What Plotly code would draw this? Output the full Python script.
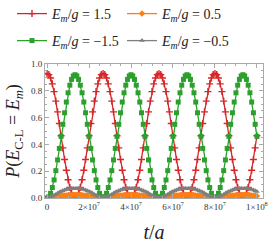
import plotly.graph_objects as go

# time in units of 1e6 (t/a)
t_e6 = [0.0, 0.833, 1.667, 2.5, 3.333, 4.167, 5.0, 5.833, 6.667, 7.5, 8.333, 9.167,
        10.0, 10.833, 11.667, 12.5, 13.333, 14.167, 15.0, 15.833, 16.667, 17.5, 18.333, 19.167,
        20.0, 20.833, 21.667, 22.5, 23.333, 24.167, 25.0, 25.833, 26.667, 27.5, 28.333, 29.167,
        30.0, 30.833, 31.667, 32.5, 33.333, 34.167, 35.0, 35.833, 36.667, 37.5, 38.333, 39.167,
        40.0, 40.833, 41.667, 42.5, 43.333, 44.167, 45.0, 45.833, 46.667, 47.5, 48.333, 49.167,
        50.0, 50.833, 51.667, 52.5, 53.333, 54.167, 55.0, 55.833, 56.667, 57.5, 58.333, 59.167,
        60.0, 60.833, 61.667, 62.5, 63.333, 64.167, 65.0, 65.833, 66.667, 67.5, 68.333, 69.167,
        70.0, 70.833, 71.667, 72.5, 73.333, 74.167, 75.0, 75.833, 76.667, 77.5, 78.333, 79.167,
        80.0, 80.833, 81.667, 82.5, 83.333, 84.167, 85.0, 85.833, 86.667, 87.5, 88.333, 89.167,
        90.0, 90.833, 91.667, 92.5, 93.333, 94.167, 95.0, 95.833, 96.667, 97.5, 98.333, 99.167,
        100.0]

# E_m/g = 1.5 (red)
p_red = [0.930, 0.921, 0.895, 0.852, 0.794, 0.723, 0.643, 0.556, 0.465, 0.374, 0.287, 0.207, 0.136, 0.078, 0.035, 0.009,
         0.000, 0.009, 0.035, 0.078, 0.136, 0.207, 0.287, 0.374, 0.465, 0.556, 0.643, 0.723, 0.794, 0.852, 0.895, 0.921,
         0.930, 0.921, 0.895, 0.852, 0.794, 0.723, 0.643, 0.556, 0.465, 0.374, 0.287, 0.207, 0.136, 0.078, 0.035, 0.009,
         0.000, 0.009, 0.035, 0.078, 0.136, 0.207, 0.287, 0.374, 0.465, 0.556, 0.643, 0.723, 0.794, 0.852, 0.895, 0.921,
         0.930, 0.921, 0.895, 0.852, 0.794, 0.723, 0.643, 0.556, 0.465, 0.374, 0.287, 0.207, 0.136, 0.078, 0.035, 0.009,
         0.000, 0.009, 0.035, 0.078, 0.136, 0.207, 0.287, 0.374, 0.465, 0.556, 0.643, 0.723, 0.794, 0.852, 0.895, 0.921,
         0.930, 0.921, 0.895, 0.852, 0.794, 0.723, 0.643, 0.556, 0.465, 0.374, 0.287, 0.207, 0.136, 0.078, 0.035, 0.009,
         0.000, 0.009, 0.035, 0.078, 0.136, 0.207, 0.287, 0.374, 0.465]

# E_m/g = 0.5 (orange)
p_orange = [0.001, 0.002, 0.003, 0.005, 0.007, 0.009, 0.011, 0.013, 0.015, 0.017, 0.018, 0.019, 0.020, 0.021, 0.021, 0.022,
            0.022, 0.022, 0.021, 0.021, 0.020, 0.019, 0.018, 0.017, 0.015, 0.013, 0.011, 0.009, 0.007, 0.005, 0.003, 0.002,
            0.001, 0.002, 0.003, 0.005, 0.007, 0.009, 0.011, 0.013, 0.015, 0.017, 0.018, 0.019, 0.020, 0.021, 0.021, 0.022,
            0.022, 0.022, 0.021, 0.021, 0.020, 0.019, 0.018, 0.017, 0.015, 0.013, 0.011, 0.009, 0.007, 0.005, 0.003, 0.002,
            0.001, 0.002, 0.003, 0.005, 0.007, 0.009, 0.011, 0.013, 0.015, 0.017, 0.018, 0.019, 0.020, 0.021, 0.021, 0.022,
            0.022, 0.022, 0.021, 0.021, 0.020, 0.019, 0.018, 0.017, 0.015, 0.013, 0.011, 0.009, 0.007, 0.005, 0.003, 0.002,
            0.001, 0.002, 0.003, 0.005, 0.007, 0.009, 0.011, 0.013, 0.015, 0.017, 0.018, 0.019, 0.020, 0.021, 0.021, 0.022,
            0.022, 0.022, 0.021, 0.021, 0.020, 0.019, 0.018, 0.017, 0.015]

# E_m/g = -1.5 (green)
p_green = [0.000, 0.009, 0.035, 0.078, 0.135, 0.204, 0.284, 0.370, 0.460, 0.550, 0.636, 0.716, 0.785, 0.842, 0.885, 0.911,
           0.920, 0.911, 0.885, 0.842, 0.785, 0.716, 0.636, 0.550, 0.460, 0.370, 0.284, 0.204, 0.135, 0.078, 0.035, 0.009,
           0.000, 0.009, 0.035, 0.078, 0.135, 0.204, 0.284, 0.370, 0.460, 0.550, 0.636, 0.716, 0.785, 0.842, 0.885, 0.911,
           0.920, 0.911, 0.885, 0.842, 0.785, 0.716, 0.636, 0.550, 0.460, 0.370, 0.284, 0.204, 0.135, 0.078, 0.035, 0.009,
           0.000, 0.009, 0.035, 0.078, 0.135, 0.204, 0.284, 0.370, 0.460, 0.550, 0.636, 0.716, 0.785, 0.842, 0.885, 0.911,
           0.920, 0.911, 0.885, 0.842, 0.785, 0.716, 0.636, 0.550, 0.460, 0.370, 0.284, 0.204, 0.135, 0.078, 0.035, 0.009,
           0.000, 0.009, 0.035, 0.078, 0.135, 0.204, 0.284, 0.370, 0.460, 0.550, 0.636, 0.716, 0.785, 0.842, 0.885, 0.911,
           0.920, 0.911, 0.885, 0.842, 0.785, 0.716, 0.636, 0.550, 0.460]

# E_m/g = -0.5 (gray)
p_gray = [0.005, 0.006, 0.009, 0.014, 0.020, 0.027, 0.035, 0.042, 0.049, 0.055, 0.060, 0.064, 0.067, 0.069, 0.070, 0.071,
          0.071, 0.071, 0.070, 0.069, 0.067, 0.064, 0.060, 0.055, 0.049, 0.042, 0.035, 0.027, 0.020, 0.014, 0.009, 0.006,
          0.005, 0.006, 0.009, 0.014, 0.020, 0.027, 0.035, 0.042, 0.049, 0.055, 0.060, 0.064, 0.067, 0.069, 0.070, 0.071,
          0.071, 0.071, 0.070, 0.069, 0.067, 0.064, 0.060, 0.055, 0.049, 0.042, 0.035, 0.027, 0.020, 0.014, 0.009, 0.006,
          0.005, 0.006, 0.009, 0.014, 0.020, 0.027, 0.035, 0.042, 0.049, 0.055, 0.060, 0.064, 0.067, 0.069, 0.070, 0.071,
          0.071, 0.071, 0.070, 0.069, 0.067, 0.064, 0.060, 0.055, 0.049, 0.042, 0.035, 0.027, 0.020, 0.014, 0.009, 0.006,
          0.005, 0.006, 0.009, 0.014, 0.020, 0.027, 0.035, 0.042, 0.049, 0.055, 0.060, 0.064, 0.067, 0.069, 0.070, 0.071,
          0.071, 0.071, 0.070, 0.069, 0.067, 0.064, 0.060, 0.055, 0.049]

assert len(t_e6) == len(p_red) == len(p_orange) == len(p_green) == len(p_gray), \
    (len(t_e6), len(p_red), len(p_orange), len(p_green), len(p_gray))

labels = ["<i>E</i><sub><i>m</i></sub>/<i>g</i> = 1.5",
          "<i>E</i><sub><i>m</i></sub>/<i>g</i> = 0.5",
          "<i>E</i><sub><i>m</i></sub>/<i>g</i> = −1.5",
          "<i>E</i><sub><i>m</i></sub>/<i>g</i> = −0.5"]

x_tickvals = [0, 2e7, 4e7, 6e7, 8e7, 1e8]
x_ticktext = ["0", "2×10<sup>7</sup>", "4×10<sup>7</sup>", "6×10<sup>7</sup>", "8×10<sup>7</sup>", "1×10<sup>8</sup>"]
y_tickvals = [0.0, 0.2, 0.4, 0.6, 0.8, 1.0]
y_ticktext = ["0.0", "0.2", "0.4", "0.6", "0.8", "1.0"]

t = [v * 1e6 for v in t_e6]

RED, ORANGE, GREEN, GRAY = "#d62728", "#ff7f0e", "#2ca02c", "#7f7f7f"
SERIF = "Liberation Serif, DejaVu Serif, serif"

fig = go.Figure()
fig.add_trace(go.Scatter(x=t, y=p_red, mode="lines+markers", name=labels[0], legend="legend", showlegend=True,
                         line=dict(color=RED, width=1.3),
                         marker=dict(symbol="cross-thin", size=5, line=dict(color=RED, width=1.4), color=RED)))
fig.add_trace(go.Scatter(x=t, y=p_orange, mode="lines+markers", name=labels[1], legend="legend2", showlegend=True,
                         line=dict(color=ORANGE, width=1.3),
                         marker=dict(symbol="diamond", size=5, color=ORANGE)))
fig.add_trace(go.Scatter(x=t, y=p_green, mode="lines+markers", name=labels[2], legend="legend3", showlegend=True,
                         line=dict(color=GREEN, width=1.3),
                         marker=dict(symbol="square", size=5, color=GREEN)))
fig.add_trace(go.Scatter(x=t, y=p_gray, mode="lines+markers", name=labels[3], legend="legend4", showlegend=True,
                         line=dict(color=GRAY, width=1.3),
                         marker=dict(symbol="triangle-up", size=5, color=GRAY)))

def leg(xpx, ypx):
    return dict(orientation="h", xref="container", yref="container", xanchor="left", yanchor="middle",
                x=xpx / 274, y=1 - ypx / 245,
                font=dict(family=SERIF, size=14, color="#222"), bgcolor="rgba(0,0,0,0)",
                itemwidth=30)

fig.update_layout(
    width=274, height=245, showlegend=True,
    margin=dict(l=45, r=11, t=64, b=47, autoexpand=False),
    paper_bgcolor="white", plot_bgcolor="white",
    font=dict(family=SERIF, color="#333"),
    legend=leg(12, 14), legend2=leg(122, 14), legend3=leg(12, 41), legend4=leg(122, 41),
    xaxis=dict(range=[-1e6, 1.029e8], tickvals=x_tickvals, ticktext=x_ticktext, automargin=False,
               showline=True, mirror="allticks", linecolor="#aaa", linewidth=1,
               ticks="inside", ticklen=4, tickcolor="#aaa", showgrid=False, zeroline=False,
               tickfont=dict(size=9, color="#333", family=SERIF),
               minor=dict(dtick=5e6, tick0=0, ticks="inside", ticklen=2, tickcolor="#aaa"),
               title=dict(text="<i>t</i>/<i>a</i>", font=dict(size=20, family=SERIF, color="#222"), standoff=14)),
    yaxis=dict(range=[0, 1.0], tickvals=y_tickvals, ticktext=y_ticktext, automargin=False,
               showline=True, mirror="allticks", linecolor="#aaa", linewidth=1,
               ticks="inside", ticklen=4, tickcolor="#aaa", showgrid=False, zeroline=False,
               tickfont=dict(size=9, color="#333", family=SERIF),
               minor=dict(dtick=0.05, tick0=0, ticks="inside", ticklen=2, tickcolor="#aaa"),
               title=dict(text="<i>P</i>(<i>E</i><sub>C-L</sub> = <i>E</i><sub><i>m</i></sub>)",
                          font=dict(size=18, family=SERIF, color="#222"), standoff=6)),
)

fig.write_html("out.html", config={"displayModeBar": False},
               post_script="document.body.style.margin='0px';")
